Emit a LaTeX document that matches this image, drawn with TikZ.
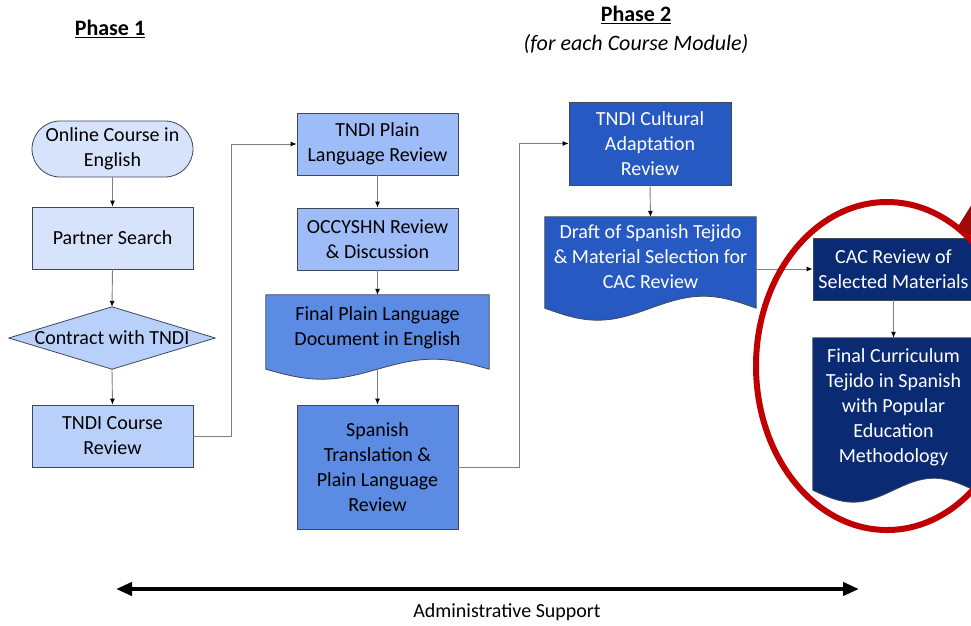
\documentclass[tikz,border=0pt]{standalone}
\usepackage{fontspec}
\setmainfont{Carlito}
\usetikzlibrary{arrows.meta,calc}

\definecolor{fillA}{HTML}{D6E3FB}
\definecolor{fillB}{HTML}{B9D0FA}
\definecolor{fillC}{HTML}{9DBCF8}
\definecolor{fillD}{HTML}{5B8BE2}
\definecolor{fillE}{HTML}{2759C2}
\definecolor{fillF}{HTML}{0A2B74}
\definecolor{boxline}{HTML}{404855}
\definecolor{linegrey}{HTML}{808080}
\definecolor{ringred}{HTML}{C00000}
\definecolor{ringdark}{HTML}{9C0A0A}

% document symbol with a wavy lower edge, drawn around a named node
\newcommand\docwave[3]{%
  \path[draw=boxline, line width=0.8pt, fill=#3]
    (#1.south west) -- (#1.north west) -- (#1.north east) -- (#1.south east)
    sin ($(#1.south east)!0.25!(#1.south west)+(0,-#2)$)
    cos ($(#1.south east)!0.5!(#1.south west)$)
    sin ($(#1.south east)!0.75!(#1.south west)+(0,#2)$)
    cos (#1.south west) -- cycle;}

\begin{document}
\begin{tikzpicture}[x=1pt, y=-1pt,
  every node/.style={font=\fontsize{20}{25}\selectfont, align=center, inner sep=0pt},
  box/.style={rectangle, draw=boxline, line width=0.8pt, minimum width=161, minimum height=62},
  docbase/.style={rectangle, minimum width=161, minimum height=62},
  flow/.style={draw=linegrey, line width=0.9pt, -{Latex[length=6pt,width=5pt,color=black]}},
  titlefont/.style={font=\fontsize{22}{26}\selectfont}]

\useasboundingbox (0,0) rectangle (971,625);

% headings
\node[titlefont] (ph1) at (110,29) {\bfseries\underline{Phase 1}};
\node[titlefont] (ph2) at (636,15) {\bfseries\underline{Phase 2}};
\node[titlefont] (ph2s) at (636,44) {\itshape (for each Course Module)};

% Phase 1 column
\node[box, fill=fillA, rounded corners=28pt, minimum height=56] (oc) at (112.5,149) {Online Course in\\English};
\node[box, fill=fillA] (ps) at (112.5,238) {Partner Search};
\node[docbase, minimum width=206, minimum height=62] (ct) at (112,338) {};
\path[draw=boxline, line width=0.8pt, fill=fillB] (ct.north) -- (ct.east) -- (ct.south) -- (ct.west) -- cycle;
\node (ct-t) at (ct.center) {Contract with TNDI};
\node[box, fill=fillB] (tcr) at (112.5,436) {TNDI Course\\Review};

% plain language column
\node[box, fill=fillC] (tpl) at (377.5,144) {TNDI Plain\\Language Review};
\node[box, fill=fillC] (occ) at (377.5,239) {OCCYSHN Review\\\& Discussion};
\node[docbase, minimum width=223, minimum height=74] (fpl) at (377.5,332) {};
\docwave{fpl}{10}{fillD}
\node (fpl-t) at ($(fpl.center)+(0,-4)$) {Final Plain Language\\Document in English};
\node[box, fill=fillD, minimum height=124] (st) at (377.5,467) {Spanish\\Translation \&\\Plain Language\\Review};

% Phase 2 column
\node[box, fill=fillE, text=white, minimum width=162, minimum height=83] (tca) at (650,143.5) {TNDI Cultural\\Adaptation\\Review};
\node[docbase, minimum width=211, minimum height=91] (dr) at (650.5,262.5) {};
\docwave{dr}{12}{fillE}
\node[text=white] (dr-t) at ($(dr.center)+(0,-6)$) {Draft of Spanish Tejido\\\& Material Selection for\\CAC Review};
\node[box, fill=fillF, text=white] (cac) at (893.5,269) {CAC Review of\\Selected Materials};
\node[docbase, minimum width=161, minimum height=152] (fc) at (893.5,414) {};
\docwave{fc}{12}{fillF}
\node[text=white] (fc-t) at ($(fc.center)+(0,-7)$) {Final Curriculum\\Tejido in Spanish\\with Popular\\Education\\Methodology};

% connectors
\draw[flow] (oc.south) -- (ps.north);
\draw[flow] (ps.south) -- (ct.north);
\draw[flow] (ct.south) -- (tcr.north);
\draw[flow] (tcr.east) -- ++(38,0) |- (tpl.west);
\draw[flow] (tpl.south) -- (occ.north);
\draw[flow] (occ.south) -- (fpl.north);
\draw[flow] (fpl.south) -- (st.north);
\draw[flow] (st.east) -- ++(61,0) |- (tca.west);
\draw[flow] (tca.south) -- (dr.north);
\draw[flow] (dr.east |- cac.west) -- (cac.west);
\draw[flow] (cac.south) -- (fc.north);

% highlight ring
\draw[draw=ringred, line width=6pt] (887,366) ellipse [x radius=131, y radius=164];
\fill[ringdark] (957,228) -- (972,204) -- (972,236) -- cycle;

% administrative support span
\coordinate (adl) at (116,589);
\coordinate (adr) at (859,589);
\draw[line width=4pt, {Triangle[length=16pt,width=13pt]}-{Triangle[length=16pt,width=13pt]}] (adl) -- (adr);
\node (adm) at (507,612) {Administrative Support};

\end{tikzpicture}
\end{document}
